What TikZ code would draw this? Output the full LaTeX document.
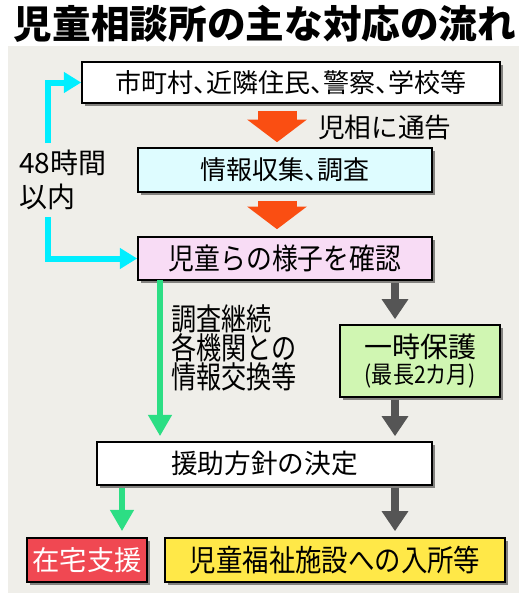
\documentclass[tikz,border=0pt]{standalone}
\usepackage{fontspec}
\usepackage{graphicx}
\setmainfont{Noto Sans CJK JP}
\newfontfamily\jpnar[FakeStretch=0.82]{Noto Sans CJK JP}
\newfontfamily\jpmid[FakeStretch=0.88]{Noto Sans CJK JP}
\newfontfamily\jppalt[RawFeature=+palt]{Noto Sans CJK JP}
\usetikzlibrary{arrows.meta,shadows,calc}
\definecolor{bgpanel}{RGB}{239,238,233}
\definecolor{orng}{RGB}{250,78,18}
\definecolor{cyanln}{RGB}{0,238,255}
\definecolor{grnln}{RGB}{44,222,132}
\definecolor{gryln}{RGB}{85,85,85}
\definecolor{boxcyan}{RGB}{222,252,255}
\definecolor{boxpink}{RGB}{248,220,245}
\definecolor{boxgreen}{RGB}{208,246,178}
\definecolor{boxred}{RGB}{240,72,82}
\definecolor{boxyellow}{RGB}{255,232,72}
\begin{document}
\begin{tikzpicture}[x=0.75pt,y=-0.75pt,
  box/.style={draw=black, line width=1.2pt, inner sep=0pt, align=center,
    drop shadow={shadow xshift=2.2pt, shadow yshift=-2.4pt, fill=black, opacity=0.45}},
  orangearr/.style={draw=orng, line width=29.25pt, -{Triangle[length=17pt,width=44pt]}},
  cyanarr/.style={draw=cyanln, line width=4.5pt, -{Triangle[length=13pt,width=15pt]}},
  grnarr/.style={draw=grnln, line width=5pt, -{Triangle[length=16pt,width=17pt]}},
  gryarr/.style={draw=gryln, line width=6pt, -{Triangle[length=15pt,width=19pt]}},
  lbl/.style={inner sep=0pt, align=left}
]
\useasboundingbox (0,0) rectangle (530,600);
\fill[white] (0,0) rectangle (530,600);
\fill[bgpanel] (8,46) rectangle (519,593);

% title
\node[inner sep=0pt, font=\fontsize{29pt}{30pt}\selectfont\bfseries] (title) at (265,24) {児童相談所の主な対応の流れ};

% boxes
\node[box, fill=white, minimum width=313.5pt, minimum height=30.75pt,
  font=\jppalt\fontsize{19.5pt}{20pt}\selectfont] (b1) at (291,82.5) {市町村、近隣住民、警察、学校等};
\node[box, fill=boxcyan, minimum width=220.5pt, minimum height=33pt,
  font=\jppalt\fontsize{19.5pt}{20pt}\selectfont] (b2) at (285,170) {情報収集、調査};
\node[box, fill=boxpink, minimum width=220.5pt, minimum height=32.25pt,
  font=\jpmid\fontsize{22pt}{22pt}\selectfont] (b3) at (285,258.5) {児童らの様子を確認};
\node[box, fill=boxgreen, minimum width=120pt, minimum height=54pt] (b4) at (420,361)
  {{\fontsize{21pt}{22pt}\selectfont 一時保護}\\[1.5pt]{\jpmid\fontsize{18pt}{20pt}\selectfont (最長2カ月)}};
\node[box, fill=white, minimum width=251.25pt, minimum height=32.25pt,
  font=\fontsize{20pt}{21pt}\selectfont] (b5) at (264.5,463.5) {援助方針の決定};
\node[box, fill=boxred, text=white, minimum width=90pt, minimum height=33pt,
  font=\fontsize{20.5pt}{21pt}\selectfont] (b6) at (87,560) {在宅支援};
\node[box, fill=boxyellow, minimum width=255pt, minimum height=33pt,
  font=\jpmid\fontsize{22.5pt}{23pt}\selectfont] (b7) at (335,560) {児童福祉施設への入所等};

% labels
\node[lbl, anchor=west, font=\fontsize{20pt}{21pt}\selectfont] (tsuko) at (318,127) {児相に通告};
\node[lbl, anchor=west, font=\fontsize{21pt}{25pt}\selectfont] (l48) at (19,180) {48時間\\以内};
\node[lbl, anchor=west, font=\jpnar\fontsize{23pt}{22pt}\selectfont] (side) at (171,348) {調査継続\\各機関との\\情報交換等};

% orange block arrows
\draw[orangearr] ($(b1.south)+(-14,7)$) -- ($(b2.north)+(-8,-5)$);
\draw[orangearr] ($(b2.south)+(-8,8)$) -- ($(b3.north)+(-8,-7)$);

% cyan 48h connector
\coordinate (c1) at (48,143);
\coordinate (c2) at (48,217);
\draw[cyanarr] (c1) |- (b1.west);
\draw[cyanarr] (c2) |- (b3.west);

% green / gray arrows
\draw[grnarr] ($(b3.south)+(-125,-1)$) -- ($(b5.north)+(-104.5,-5)$);
\draw[gryarr] ($(b3.south)+(110,2)$) -- ($(b4.north)+(-25,-5)$);
\draw[gryarr] ($(b4.south)+(-25,2)$) -- ($(b5.north)+(130.5,-5)$);
\draw[grnarr] ($(b5.south)+(-142.5,2)$) -- ($(b6.north)+(35,-6)$);
\draw[gryarr] ($(b5.south)+(130.5,2)$) -- ($(b7.north)+(60,-6)$);
\end{tikzpicture}
\end{document}
